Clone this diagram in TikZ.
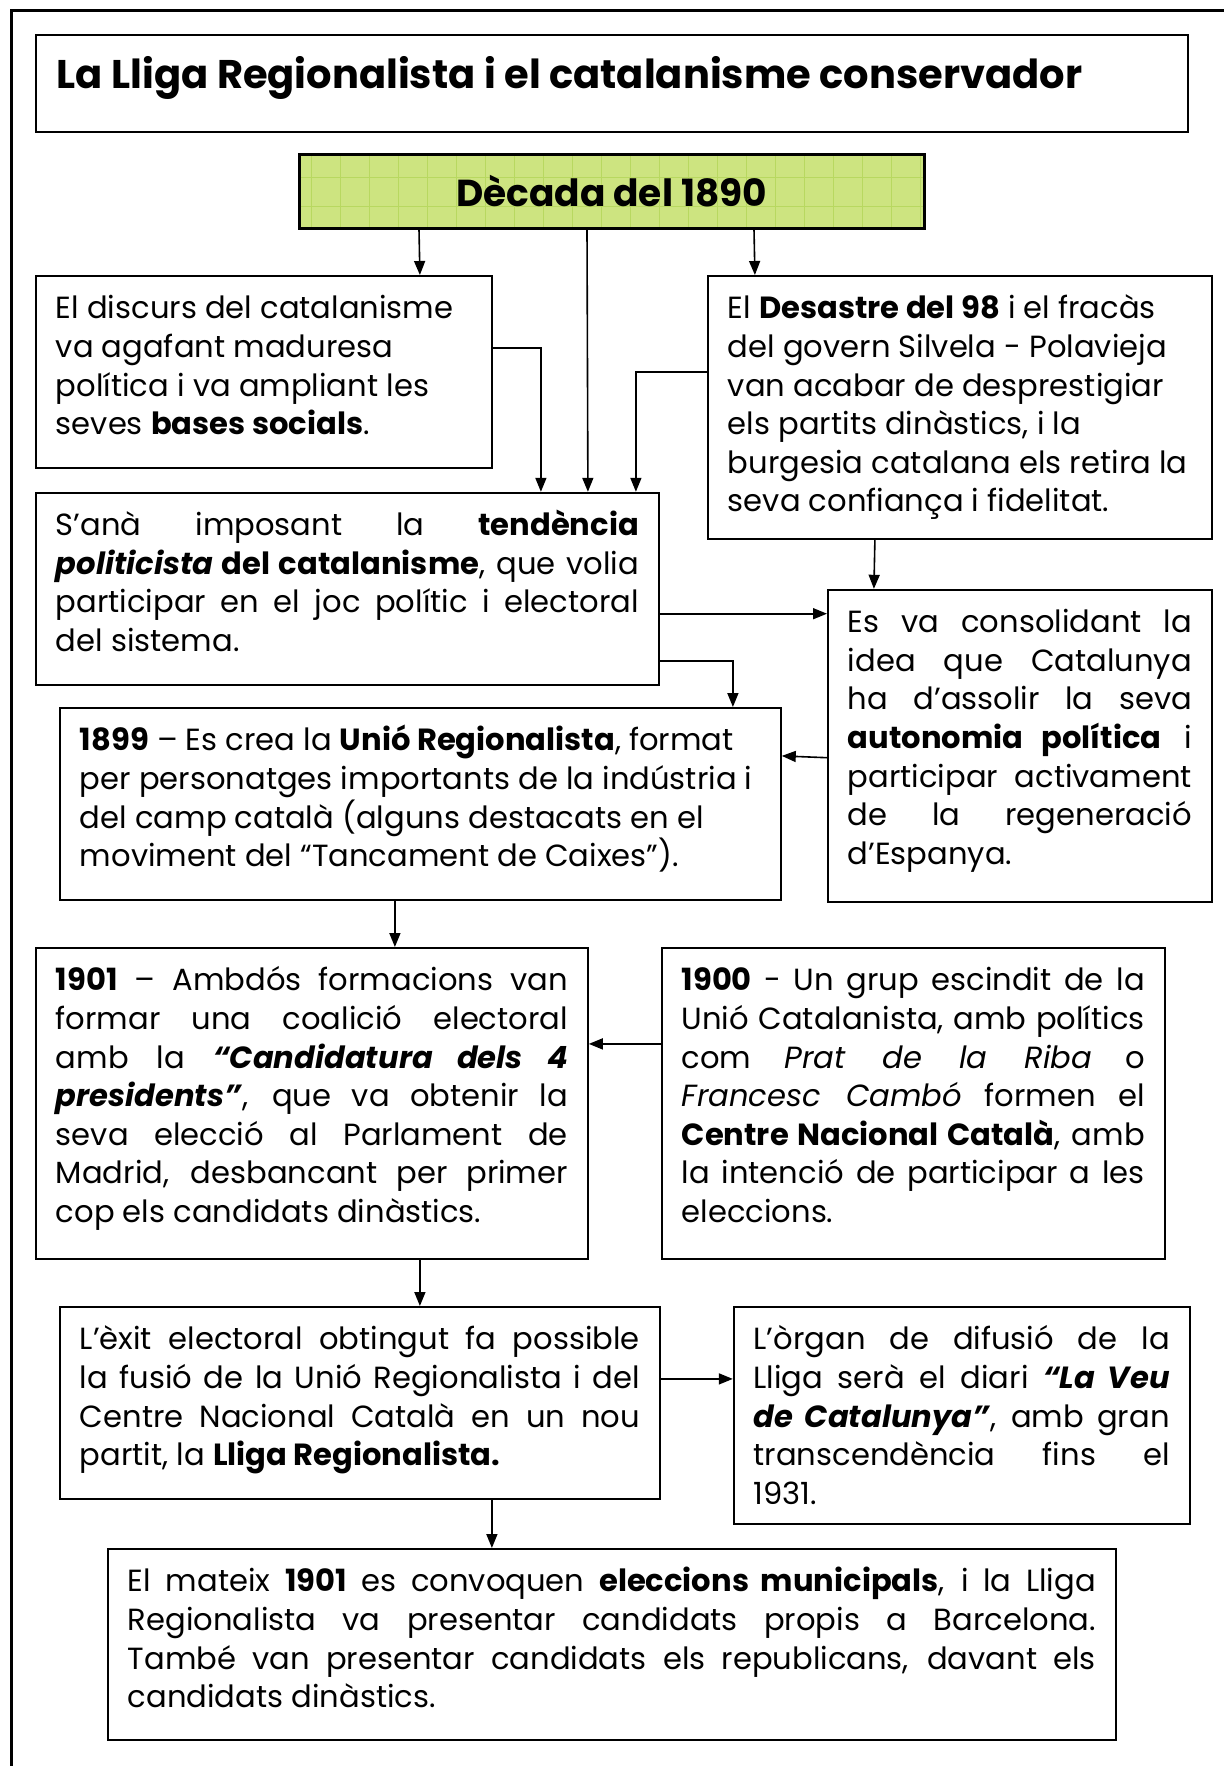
\documentclass[tikz,border=0pt]{standalone}
\usepackage{fontspec}
\setmainfont{Poppins}
\usetikzlibrary{positioning,arrows.meta}
\definecolor{decgreen}{RGB}{205,228,128}
\definecolor{decgrid}{RGB}{184,216,96}
\newcommand{\bodyfont}{\fontsize{30.6pt}{38.6pt}\selectfont}
\newcommand{\jl}[1]{\makebox[\linewidth][s]{#1}\\}
\newcommand{\boxpar}[3]{\parbox[c][#2pt][t]{#1pt}{\raggedright\strut#3}}

\begin{document}
\begin{tikzpicture}[x=1pt, y=-1pt,
  box/.style={rectangle, draw, line width=1.8pt, inner xsep=20pt, inner ysep=16pt, anchor=north west, font=\bodyfont},
  decada/.style={rectangle, draw, line width=3pt, fill=decgreen, minimum width=625pt, minimum height=74pt,
    font={\fontsize{37.5pt}{40pt}\selectfont\bfseries},
    path picture={\draw[decgrid, line width=0.8pt] (path picture bounding box.south west) grid[step=29pt] (path picture bounding box.north east);}},
  arrow/.style={->, >={Triangle[length=14pt,width=11pt]}, line width=1.6pt}
]
  \useasboundingbox (0,0) rectangle (1223,1766);
  \draw[line width=3pt] (11,1780) -- (11,11) -- (1240,11);

  \node[box, inner xsep=21pt, inner ysep=22pt, font={\fontsize{40pt}{44pt}\selectfont\bfseries}] (title) at (35,34)
    {\boxpar{1110}{53}{La Lliga Regionalista i el catalanisme conservador}};
  \node[decada] (dec) at (611.5,191) {Dècada del 1890};

  \node[box] (discurs) at (35,275) {\boxpar{416}{160}{El discurs del catalanisme\\
    va agafant maduresa\\ política i va ampliant les\\ seves \textbf{bases socials}.}};
  \node[box, below=23pt of discurs.south west, anchor=north west] (tendencia) {\boxpar{583}{160}{%
    \jl{S’anà imposant la \textbf{tendència}}
    \jl{\textbf{\textit{politicista} del catalanisme}, que volia}
    \jl{participar en el joc polític i electoral}
    del sistema.}};
  \node[box] (desastre) at (707,275) {\boxpar{464}{231}{El \textbf{Desastre del 98} i el fracàs\\
    del govern Silvela - Polavieja\\ van acabar de desprestigiar\\ els partits dinàstics, i la\\
    burgesia catalana els retira la\\ seva confiança i fidelitat.}};
  \node[box, below=49pt of desastre.south east, anchor=north east] (consolida) {\boxpar{344}{280}{%
    \jl{Es va consolidant la}
    \jl{idea que Catalunya}
    \jl{ha d’assolir la seva}
    \jl{\textbf{autonomia política} i}
    \jl{participar activament}
    \jl{de la regeneració}
    d’Espanya.}};
  \node[box] (unio) at (59,707) {\boxpar{681}{160}{\textbf{1899} – Es crea la \textbf{Unió Regionalista}, format\\
    per personatges importants de la indústria i\\ del camp català (alguns destacats en el\\
    moviment del “Tancament de Caixes”).}};

  \node[box] (coalicio) at (35,947) {\boxpar{512}{279}{%
    \jl{\textbf{1901} – Ambdós formacions van}
    \jl{formar una coalició electoral}
    \jl{amb la \textbf{\textit{“Candidatura dels 4}}}
    \jl{\textbf{\textit{presidents”}}, que va obtenir la}
    \jl{seva elecció al Parlament de}
    \jl{Madrid, desbancant per primer}
    cop els candidats dinàstics.}};
  \node[box, right=72pt of coalicio.north east, anchor=north west] (centre) {\boxpar{463}{279}{%
    \jl{\textbf{1900} - Un grup escindit de la}
    \jl{Unió Catalanista, amb polítics}
    \jl{com \textit{Prat de la Riba} o}
    \jl{\textit{Francesc Cambó} formen el}
    \jl{\textbf{Centre Nacional Català}, amb}
    \jl{la intenció de participar a les}
    eleccions.}};

  \node[box] (fusio) at (59,1306) {\boxpar{560}{160}{%
    \jl{L’èxit electoral obtingut fa possible}
    \jl{la fusió de la Unió Regionalista i del}
    \jl{Centre Nacional Català en un nou}
    partit, la \textbf{Lliga Regionalista.}}};
  \node[box, right=72pt of fusio.north east, anchor=north west] (veu) {\boxpar{416}{185}{%
    \jl{L’òrgan de difusió de la}
    \jl{Lliga serà el diari \textbf{\textit{“La Veu}}}
    \jl{\textbf{\textit{de Catalunya”}}, amb gran}
    \jl{transcendència fins el}
    1931.}};
  \node[box] (municipals) at (107,1548) {\boxpar{968}{159}{%
    \jl{El mateix \textbf{1901} es convoquen \textbf{eleccions municipals}, i la Lliga}
    \jl{Regionalista va presentar candidats propis a Barcelona.}
    \jl{També van presentar candidats els republicans, davant els}
    candidats dinàstics.}};

  % connectors
  \draw[arrow] ([xshift=-192.5pt]dec.south) -- ([xshift=156pt]discurs.north);
  \draw[arrow] ([xshift=-24.5pt]dec.south) -- ([xshift=240.5pt]tendencia.north);
  \draw[arrow] ([xshift=142.5pt]dec.south) -- ([xshift=-205pt]desastre.north);
  \draw[arrow] ([yshift=24pt]discurs.east) -| ([xshift=193.5pt]tendencia.north);
  \draw[arrow] ([yshift=35.5pt]desastre.west) -| ([xshift=288.5pt]tendencia.north);
  \draw[arrow] ([xshift=-85pt]desastre.south) -- ([xshift=-146pt]consolida.north);
  \draw[arrow] ([yshift=-25pt]tendencia.east) -- ([yshift=132pt]consolida.west);
  \draw[arrow] ([yshift=-72pt]tendencia.east) -| ([xshift=312.5pt]unio.north);
  \draw[arrow] ([yshift=-12pt]consolida.west) -- ([yshift=48pt]unio.east);
  \draw[arrow] ([xshift=-25.5pt]unio.south) -- ([xshift=83pt]coalicio.north);
  \draw[arrow] ([yshift=59.5pt]centre.west) -- ([yshift=59.5pt]coalicio.east);
  \draw[arrow] ([xshift=108pt]coalicio.south) -- ([xshift=60pt]fusio.north);
  \draw[arrow] ([yshift=24pt]fusio.east) -- ([yshift=36.5pt]veu.west);
  \draw[arrow] ([xshift=132pt]fusio.south) -- ([xshift=-120pt]municipals.north);
\end{tikzpicture}
\end{document}
